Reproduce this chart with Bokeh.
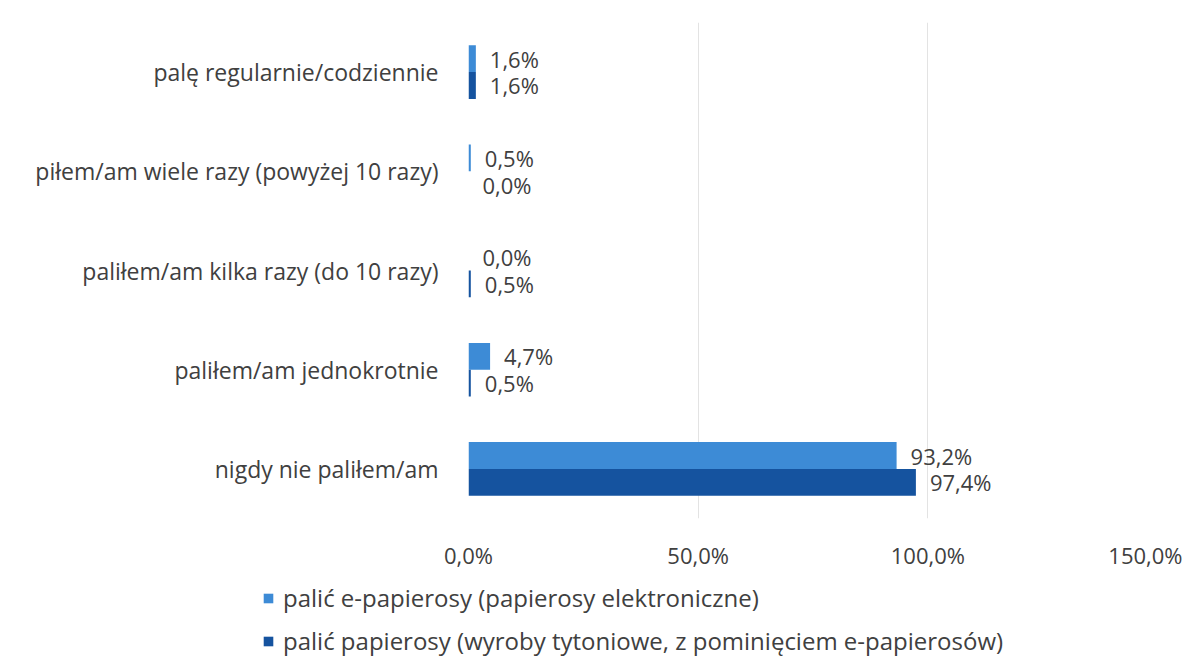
from bokeh.plotting import figure
from bokeh.layouts import column
from bokeh.models import (ColumnDataSource, FactorRange, Range1d, FixedTicker,
                          CustomJSTickFormatter, Legend, LegendItem)
from bokeh.transform import dodge
from bokeh.core.properties import value
from bokeh.embed import file_html
from bokeh.resources import INLINE

categories = [
    "palę regularnie/codziennie",
    "piłem/am wiele razy (powyżej 10 razy)",
    "paliłem/am kilka razy (do 10 razy)",
    "paliłem/am jednokrotnie",
    "nigdy nie paliłem/am",
]
e_cig = [1.6, 0.5, 0.0, 4.7, 93.2]
cig = [1.6, 0.0, 0.5, 0.5, 97.4]
series_names = [
    "palić e-papierosy (papierosy elektroniczne)",
    "palić papierosy (wyroby tytoniowe, z pominięciem e-papierosów)",
]
x_ticks = [0, 50, 100, 150]

LIGHT = "#3d8bd6"
DARK = "#15539f"
TXT = "#404040"
FONT = "Open Sans"
FS = "22px"


def fmt(v):
    return f"{v:.1f}%".replace(".", ",")


src = ColumnDataSource(dict(
    cat=categories,
    e=e_cig,
    c=cig,
    e_lbl=[fmt(v) for v in e_cig],
    c_lbl=[fmt(v) for v in cig],
))

y_range = FactorRange(*reversed(categories))
bw = 0.27

p = figure(width=1182, height=572,
           x_range=Range1d(0, 150), y_range=y_range,
           output_backend="svg", toolbar_location=None,
           min_border_left=468, min_border_right=25,
           min_border_top=22, min_border_bottom=50)
p.frame_align = False

p.outline_line_color = None
p.ygrid.grid_line_color = None
p.xgrid.grid_line_color = "#e3e3e3"
p.xaxis.ticker = FixedTicker(ticks=x_ticks)
p.xaxis.formatter = CustomJSTickFormatter(
    code="return tick.toFixed(1).replace('.', ',') + '%';")

for ax in (p.xaxis, p.yaxis):
    ax.axis_line_color = None
    ax.major_tick_line_color = None
    ax.minor_tick_line_color = None
    ax.major_tick_out = 0
    ax.major_tick_in = 0
    ax.major_label_text_font = FONT
    ax.major_label_text_font_size = FS
    ax.major_label_text_color = TXT
p.yaxis.major_label_text_font_size = "23px"
p.yaxis.major_label_standoff = 30
p.xaxis.major_label_standoff = 21

p.hbar(y=dodge("cat", bw / 2, range=y_range), left=0, right="e",
       height=bw, source=src, fill_color=LIGHT, line_color=None)
p.hbar(y=dodge("cat", -bw / 2, range=y_range), left=0, right="c",
       height=bw, source=src, fill_color=DARK, line_color=None)

p.text(x="e", y=dodge("cat", bw / 2, range=y_range), text="e_lbl",
       source=src, x_offset=14, text_baseline="middle",
       text_font=value(FONT), text_font_size=FS, text_color=TXT)
p.text(x="c", y=dodge("cat", -bw / 2, range=y_range), text="c_lbl",
       source=src, x_offset=14, text_baseline="middle",
       text_font=value(FONT), text_font_size=FS, text_color=TXT)

# legend strip below the chart
lg = figure(width=1182, height=84,
            x_range=Range1d(0, 150), y_range=y_range,
            output_backend="svg", toolbar_location=None,
            x_axis_type=None, y_axis_type=None,
            min_border=0, min_border_left=0, min_border_right=0,
            min_border_top=0, min_border_bottom=0)
lg.frame_align = False
lg.outline_line_color = None
lg.grid.grid_line_color = None
l1 = lg.hbar(y=dodge("cat", bw / 2, range=y_range), left=0, right="e",
             height=bw, source=src, fill_color=LIGHT, line_color=None,
             visible=False)
l2 = lg.hbar(y=dodge("cat", -bw / 2, range=y_range), left=0, right="c",
             height=bw, source=src, fill_color=DARK, line_color=None,
             visible=False)

legend = Legend(items=[LegendItem(label=series_names[0], renderers=[l1]),
                       LegendItem(label=series_names[1], renderers=[l2])],
                location=(262, -1), orientation="vertical",
                padding=0, margin=0, spacing=10,
                glyph_width=12, glyph_height=12, label_height=22,
                label_standoff=9, label_text_font=FONT,
                label_text_font_size="24px", label_text_color=TXT,
                border_line_color=None, background_fill_alpha=0)
lg.add_layout(legend, "center")

layout = column(p, lg, spacing=0)
open("out.html", "w").write(file_html(layout, INLINE))
